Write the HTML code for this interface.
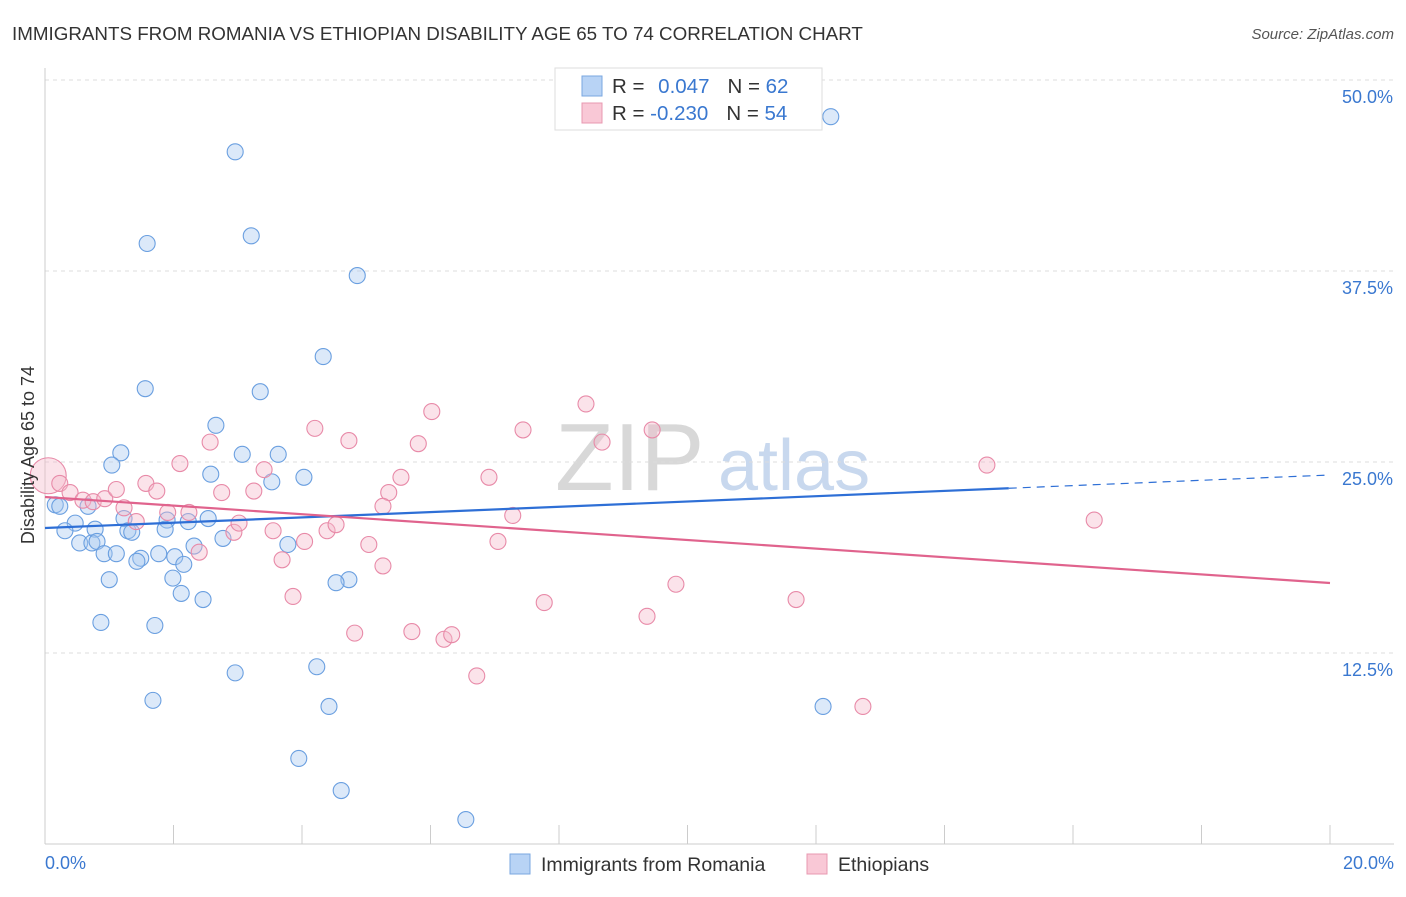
<!DOCTYPE html>
<html><head><meta charset="utf-8"><style>
body{margin:0;background:#fff;font-family:"Liberation Sans",sans-serif;}
svg text{font-family:"Liberation Sans",sans-serif;}
</style></head><body>
<svg id="c" width="1406" height="892" xmlns="http://www.w3.org/2000/svg">
<text x="12" y="40" font-size="18.8" fill="#333">IMMIGRANTS FROM ROMANIA VS ETHIOPIAN DISABILITY AGE 65 TO 74 CORRELATION CHART</text>
<text x="1394" y="39" font-size="15" fill="#555" font-style="italic" text-anchor="end">Source: ZipAtlas.com</text>
<g><text x="555" y="490" font-size="96" fill="#d8d8d8" font-family="Liberation Serif">ZIP</text><text x="718" y="490" font-size="72" fill="#c8d8ee">atlas</text></g>
<g id="grid"></g><g id="axes"></g><g id="marks"></g>
<text x="34" y="455" font-size="18" fill="#333" text-anchor="middle" transform="rotate(-90 34 455)">Disability Age 65 to 74</text>
<text x="45" y="869" font-size="18" fill="#3a78d0">0.0%</text>
<text x="1394" y="869" font-size="18" fill="#3a78d0" text-anchor="end">20.0%</text>
<g>
<rect x="555" y="68" width="267" height="62" fill="#fff" stroke="#ddd"/>
<rect x="582" y="76" width="20" height="20" fill="#b8d3f5" stroke="#7aa7e0"/>
<rect x="582" y="103" width="20" height="20" fill="#f9c8d6" stroke="#e898b0"/>
<text x="612" y="93" font-size="20.5" fill="#333">R = <tspan fill="#3a78d0" dx="8">0.047</tspan><tspan dx="18">N = </tspan><tspan fill="#3a78d0">62</tspan></text>
<text x="612" y="120" font-size="20.5" fill="#333">R = <tspan fill="#3a78d0">-0.230</tspan><tspan dx="18">N = </tspan><tspan fill="#3a78d0">54</tspan></text>
</g>
<g>
<rect x="510" y="854" width="20" height="20" fill="#b8d3f5" stroke="#7aa7e0"/>
<text x="541" y="871" font-size="19.5" fill="#333">Immigrants from Romania</text>
<rect x="807" y="854" width="20" height="20" fill="#f9c8d6" stroke="#e898b0"/>
<text x="838" y="871" font-size="19.5" fill="#333">Ethiopians</text>
</g>
</svg>
<script>
const yTicks=[12.5,25,37.5,50];
const yTickLabels=["12.5%","25.0%","37.5%","50.0%"];
const xTicks=[0,2,4,6,8,10,12,14,16,18,20];
const romaniaX=[12.23,2.96,1.59,3.21,4.86,4.33,1.56,3.35,2.66,1.18,3.07,3.63,1.04,2.58,3.53,4.03,0.16,0.23,0.67,1.23,1.90,2.23,2.54,0.47,0.31,0.78,1.29,1.35,1.87,0.54,0.73,0.81,2.77,2.32,3.78,0.92,1.11,1.77,2.02,1.49,1.43,2.16,1.99,1.00,4.73,4.53,2.12,2.46,0.87,1.71,4.23,2.96,1.68,4.42,12.11,3.95,4.61,6.55];
const romaniaY=[47.6,45.3,39.3,39.8,37.2,31.9,29.8,29.6,27.4,25.6,25.5,25.5,24.8,24.2,23.7,24.0,22.2,22.1,22.1,21.3,21.2,21.1,21.3,21.0,20.5,20.6,20.5,20.4,20.6,19.7,19.7,19.8,20.0,19.5,19.6,19.0,19.0,19.0,18.8,18.7,18.5,18.3,17.4,17.3,17.3,17.1,16.4,16.0,14.5,14.3,11.6,11.2,9.4,9.0,9.0,5.6,3.5,1.6];
const ethX=[0.05,0.23,0.39,0.59,0.75,0.93,1.11,1.23,1.42,1.57,1.74,1.91,2.10,2.24,2.40,2.57,2.75,2.94,3.02,3.25,3.41,3.55,3.69,3.86,4.04,4.20,4.39,4.53,4.73,4.82,5.04,5.26,5.35,5.26,5.54,5.81,5.71,6.02,6.21,6.33,6.72,6.91,7.05,7.28,7.44,7.77,8.42,8.67,9.37,9.45,9.82,11.69,12.73,14.66,16.33];
const ethY=[24.1,23.6,23.0,22.5,22.4,22.6,23.2,22.0,21.1,23.6,23.1,21.7,24.9,21.7,19.1,26.3,23.0,20.4,21.0,23.1,24.5,20.5,18.6,16.2,19.8,27.2,20.5,20.9,26.4,13.8,19.6,18.2,23.0,22.1,24.0,26.2,13.9,28.3,13.4,13.7,11.0,24.0,19.8,21.5,27.1,15.8,28.8,26.3,14.9,27.1,17.0,16.0,9.0,24.8,21.2];
const romaniaTrend=[20.68,24.15]; const romaniaSolidEnd=15.0;
const ethTrend=[22.71,17.08];
const NS="http://www.w3.org/2000/svg";
const xs=v=>45+v*64.25, ys=v=>844-v*15.28;
function mk(t,a,p){const e=document.createElementNS(NS,t);for(const k in a)e.setAttribute(k,a[k]);p.appendChild(e);return e;}
const grid=document.getElementById('grid'),axes=document.getElementById('axes'),marks=document.getElementById('marks');
yTicks.forEach((v,i)=>{
 const l=mk('line',{x1:45,x2:1394,y1:ys(v),y2:ys(v),stroke:'#ddd','stroke-dasharray':'4 4'},grid);
 
 
 const t=mk('text',{x:1393,y:ys(v)+23,'font-size':18,fill:'#3a78d0','text-anchor':'end'},grid);
 t.textContent=yTickLabels[i];
 
 
});
let a=mk('line',{x1:45,x2:45,y1:68,y2:844,stroke:'#ccc'},axes);


a=mk('line',{x1:45,x2:1394,y1:844,y2:844,stroke:'#ccc'},axes);


xTicks.forEach(v=>{const t=mk('line',{x1:xs(v),x2:xs(v),y1:825,y2:844,stroke:'#ccc'},axes);
 
 });
function dots(X,Y,fill,stroke,name){X.forEach((x,i)=>{const c=mk('circle',{cx:xs(x),cy:ys(Y[i]),r:(name==='ethiopian-point'&&i===0)?18:8,fill:fill,'fill-opacity':0.4,stroke:stroke,'stroke-width':1.1},marks);
 
 });}
dots(romaniaX,romaniaY,'#a8c8f0','#6a9fe0','romania-point');
dots(ethX,ethY,'#f6b8cb','#e88aa8','ethiopian-point');
const rAt=x=>romaniaTrend[0]+(romaniaTrend[1]-romaniaTrend[0])*x/20;
let t=mk('line',{x1:xs(0),y1:ys(rAt(0)),x2:xs(romaniaSolidEnd),y2:ys(rAt(romaniaSolidEnd)),stroke:'#2e6fd6','stroke-width':2.2},marks);


t=mk('line',{x1:xs(romaniaSolidEnd),y1:ys(rAt(romaniaSolidEnd)),x2:xs(20),y2:ys(rAt(20)),stroke:'#2e6fd6','stroke-width':1.2,'stroke-dasharray':'8 6'},marks);


t=mk('line',{x1:xs(0),y1:ys(ethTrend[0]),x2:xs(20),y2:ys(ethTrend[1]),stroke:'#e0638d','stroke-width':2.2},marks);


</script>
</body></html>
